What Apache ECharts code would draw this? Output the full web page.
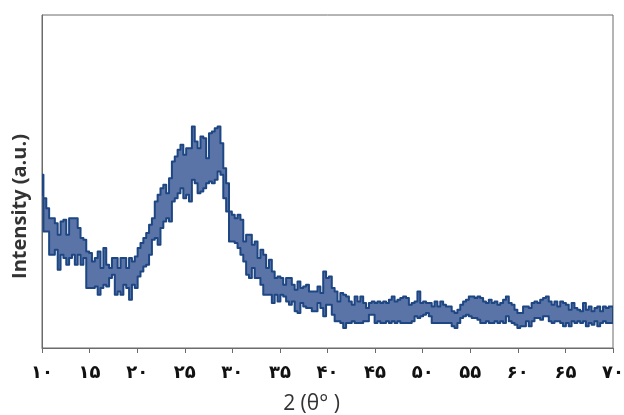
<!DOCTYPE html>
<html style="height: 100%">
<head>
  <meta charset="utf-8">
</head>
<body style="height: 100%; margin: 0">
  <div id="container" style="width: 624px; height: 415px"></div>
  <script src="https://cdn.jsdelivr.net/npm/echarts/dist/echarts.min.js"></script>
  <script type="text/javascript">
    // 2θ sampled every 0.3 degree from 10 to 70
    var thetaStart = 10;
    var thetaStep = 0.3;
    var xTicks = [10, 15, 20, 25, 30, 35, 40, 45, 50, 55, 60, 65, 70];

    // upper and lower edge of the noisy trace (a.u.)
    var upper = [52, 45, 42, 39, 39, 37.5, 34, 38, 38.5, 34, 39, 39, 39, 36, 33, 32.5, 29, 28.5, 26, 27,
      29, 24, 30, 25, 24, 27, 27, 24, 27, 27, 24, 27, 26, 27.5, 30, 31.5, 33, 34.5, 37, 39,
      44, 46, 48, 49, 46.5, 51, 56, 57.5, 59.5, 61, 58, 60, 60, 66.5, 62, 60, 63.5, 63, 57, 64.5,
      65, 66, 66.5, 61.5, 54, 49.5, 41, 40, 39, 40, 38.5, 32, 34, 34, 31, 32, 27, 29.5, 28, 24,
      26.5, 23, 21, 21.5, 21, 19, 21, 21, 19, 17.5, 20, 18, 18.5, 19, 17, 17, 17, 18.5, 16.5, 23,
      21, 21.5, 18, 17, 14, 16.5, 16, 15.5, 14, 13, 15.5, 14, 15.5, 13.5, 12, 13.5, 14, 13.5, 14, 13.5,
      14, 13.5, 14.5, 15.5, 14, 14.5, 15, 15.5, 15, 13, 13.5, 14, 17, 13.5, 14, 13.5, 13.5, 12.5, 14, 12.5,
      14, 13, 12.5, 12.5, 11, 10.5, 11.5, 13, 14, 14.5, 15.5, 15.5, 15, 15.5, 15, 14, 13.5, 14.5, 13.5, 14,
      13, 13.5, 14.5, 15.5, 13.5, 13, 11.5, 10.5, 10.5, 12.5, 12.5, 12, 13.5, 14, 13.5, 14.5, 15, 15.5, 14, 13,
      14, 12.5, 14, 13.5, 13, 11.5, 13.5, 12, 11.5, 11, 13.5, 11.5, 12.5, 11, 12, 12.5, 11, 12.5, 12, 12.5,
      12.5];
    var lower = [46, 35, 35, 28, 28, 29.5, 23.5, 28, 27, 25, 27, 28, 25, 28, 25, 27, 18, 18, 18, 18.5,
      16, 18, 19, 18.5, 21, 22, 16, 17, 16, 19, 18, 14.5, 19, 18, 21.5, 23, 24.5, 25, 28, 32.5,
      33, 31, 36, 38, 39, 38, 44, 45, 46.5, 48, 45, 46, 44, 50.5, 49.5, 46.5, 47, 48, 49.5, 50,
      49.5, 50.5, 53, 52, 45, 41, 32, 32, 31.5, 30, 28, 26, 22, 21, 24, 21, 21, 19, 16, 16,
      16, 13.5, 16, 14, 16, 15.5, 14, 13, 14, 11, 10.5, 13.5, 12.5, 12, 12, 11, 11, 13.5, 12, 9.5,
      13, 13, 10, 8, 8, 7.5, 6, 7.5, 7.5, 8, 7.5, 7.5, 7.5, 8, 8, 10, 10, 7.5, 8, 7.5,
      7.5, 8, 7.5, 8, 7.5, 8, 7.5, 7.5, 7.5, 7.5, 8, 9.5, 9, 9.5, 10, 10.5, 9.5, 7.5, 7.5, 7.5,
      7.5, 7.5, 7.5, 7.5, 6.5, 6, 7.5, 9, 9.5, 10, 9.5, 9, 9, 8.5, 7.5, 7.5, 8, 7.5, 7.5, 8,
      7.5, 8, 7.5, 9.5, 8, 7.5, 7, 6, 6.5, 6.5, 8, 6.5, 8, 9, 9, 8.5, 9.5, 9.5, 8, 7.5,
      8, 8, 7.5, 6.5, 7.5, 6.5, 8, 7.5, 8, 7.5, 8, 6.5, 7.5, 7, 8, 6.5, 7.5, 8, 7.5, 7.5,
      7.5];

    var faDigits = ['۰', '۱', '۲', '۳', '۴', '۵', '۶', '۷', '۸', '۹'];
    function toPersian(v) {
      return String(v).replace(/[0-9]/g, function (d) { return faDigits[+d]; });
    }

    var theta = upper.map(function (_, i) { return +(thetaStart + i * thetaStep).toFixed(2); });

    var edgeColor = '#1d4682';
    var fillColor = '#5b74a8';

    // band between upper and lower edge, drawn as one stepped polygon through the axes
    function renderBand(params, api) {
      var h = thetaStep / 2;
      var pts = [];
      for (var i = 0; i < theta.length; i++) {
        pts.push(api.coord([Math.max(10, theta[i] - h), upper[i]]));
        pts.push(api.coord([Math.min(70, theta[i] + h), upper[i]]));
      }
      for (var j = theta.length - 1; j >= 0; j--) {
        pts.push(api.coord([Math.min(70, theta[j] + h), lower[j]]));
        pts.push(api.coord([Math.max(10, theta[j] - h), lower[j]]));
      }
      return {
        type: 'polygon',
        shape: { points: pts },
        style: { fill: fillColor, stroke: edgeColor, lineWidth: 2, lineJoin: 'round' }
      };
    }

    var myChart = echarts.init(document.getElementById('container'));
    var option = {
      animation: false,
      grid: {
        left: 42, right: 11, top: 15, bottom: 67,
        outerBoundsMode: 'none',
        show: true, borderColor: '#6b6b6b', borderWidth: 1
      },
      xAxis: {
        type: 'value',
        min: 10, max: 70, interval: 5,
        name: '2 (θ° )',
        nameLocation: 'middle',
        nameGap: 46,
        nameTextStyle: { fontFamily: 'Open Sans', fontSize: 21, color: '#333', padding: [0, 32, 0, 0] },
        axisLine: { lineStyle: { color: '#6b6b6b', width: 1 } },
        axisTick: { length: 5, lineStyle: { color: '#6b6b6b' } },
        splitLine: { show: false },
        axisLabel: {
          margin: 16,
          fontFamily: 'DejaVu Sans',
          fontWeight: 'bold',
          fontSize: 18,
          color: '#111',
          formatter: function (v) { return xTicks.indexOf(v) >= 0 ? toPersian(v) : ''; }
        }
      },
      yAxis: {
        type: 'value',
        min: 0, max: 100,
        name: 'Intensity (a.u.)',
        nameLocation: 'middle',
        nameGap: 12,
        nameTextStyle: {
          fontFamily: 'Open Sans', fontWeight: 'bold', fontSize: 20, color: '#333',
          padding: [0, 50, 0, 0]
        },
        axisLine: { show: true, lineStyle: { color: '#6b6b6b' } },
        axisTick: { show: false },
        axisLabel: { show: false },
        splitLine: { show: false }
      },
      series: [
        {
          type: 'custom',
          data: [0],
          clip: true,
          silent: true,
          renderItem: renderBand
        }
      ]
    };
    myChart.setOption(option);
  </script>
</body>
</html>
